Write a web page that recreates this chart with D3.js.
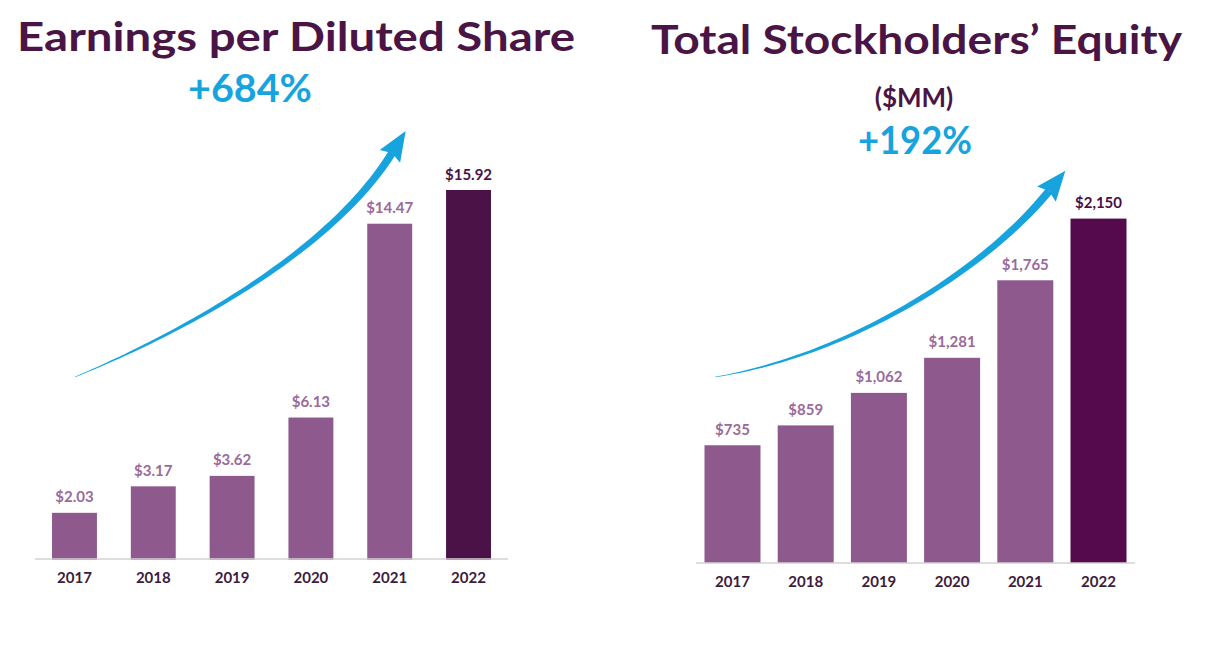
<!doctype html>
<html lang="en">
<head>
	<meta charset="UTF-8">
	<title>EPS and Stockholders' Equity</title>
	<script src="https://d3js.org/d3.v7.min.js"></script>
	<style>
		body { margin: 0; background: #fff; }
		svg { display: block; }
		text { font-family: Lato, 'Open Sans', sans-serif; }
	</style>
</head>
<body>
	<div id="chart"></div>
	<script>
		// ---- data ----
		var years = ['2017', '2018', '2019', '2020', '2021', '2022']
		var eps_values = [2.03, 3.17, 3.62, 6.13, 14.47, 15.92]
		var equity_values = [735, 859, 1062, 1281, 1765, 2150]

		var W = 1221, H = 647

		// colours
		var title_color = '#4a1545'
		var blue = '#17a3dd'
		var bar_light = '#8e5a8e'
		var label_light = '#9a6a9a'
		var year_color = '#3d1c3d'
		var axis_color = '#d2d2d2'

		var svg = d3.select('#chart')
			.append('svg')
			.attr('width', W)
			.attr('height', H)

		/**
		 * tapered arrow along a cubic bezier, thin at the tail, fat at the head
		 */
		function tapered_arrow(g, p0, c1, c2, p3, w0, w1, head_len, head_w) {
			var n = 60
			var left = [], right = []
			function pt(t) {
				var a = (1 - t) * (1 - t) * (1 - t), b = 3 * (1 - t) * (1 - t) * t,
					c = 3 * (1 - t) * t * t, d = t * t * t
				return [a * p0[0] + b * c1[0] + c * c2[0] + d * p3[0],
					a * p0[1] + b * c1[1] + c * c2[1] + d * p3[1]]
			}
			function tan(t) {
				var a = 3 * (1 - t) * (1 - t), b = 6 * (1 - t) * t, c = 3 * t * t
				var dx = a * (c1[0] - p0[0]) + b * (c2[0] - c1[0]) + c * (p3[0] - c2[0])
				var dy = a * (c1[1] - p0[1]) + b * (c2[1] - c1[1]) + c * (p3[1] - c2[1])
				var l = Math.sqrt(dx * dx + dy * dy)
				return [dx / l, dy / l]
			}
			for (var i = 0; i <= n; i++) {
				var t = i / n
				var p = pt(t), d = tan(t)
				var w = (w0 + (w1 - w0) * Math.pow(t, 0.8)) / 2
				left.push([p[0] - d[1] * w, p[1] + d[0] * w])
				right.push([p[0] + d[1] * w, p[1] - d[0] * w])
			}
			var pts = left.concat(right.reverse())
			g.append('path')
				.attr('d', d3.line()(pts) + 'Z')
				.attr('fill', blue)

			// head
			var d = tan(1)
			var tip = [p3[0] + d[0] * head_len, p3[1] + d[1] * head_len]
			var back = [p3[0] - d[0] * 4, p3[1] - d[1] * 4]
			var hl = [back[0] - d[1] * head_w / 2, back[1] + d[0] * head_w / 2]
			var hr = [back[0] + d[1] * head_w / 2, back[1] - d[0] * head_w / 2]
			g.append('path')
				.attr('d', d3.line()([tip, hl, p3, hr]) + 'Z')
				.attr('fill', blue)
		}

		function draw_panel(cfg) {
			var g = svg.append('g')

			var x = d3.scaleBand()
				.domain(years)
				.range([cfg.x0, cfg.x1])
				.paddingInner(cfg.pad_in)
				.paddingOuter(cfg.pad_out)

			var y = d3.scaleLinear()
				.domain([0, d3.max(cfg.values)])
				.range([cfg.base, cfg.top])

			var data = years.map(function (yr, i) { return { year: yr, value: cfg.values[i], last: i == years.length - 1 } })

			// bars
			g.selectAll('rect.bar')
				.data(data)
				.enter()
				.append('rect')
				.attr('class', 'bar')
				.attr('x', function (d) { return x(d.year) })
				.attr('y', function (d) { return y(d.value) })
				.attr('width', x.bandwidth())
				.attr('height', function (d) { return cfg.base - y(d.value) })
				.attr('fill', function (d) { return d.last ? cfg.dark : bar_light })

			// baseline
			g.append('line')
				.attr('x1', cfg.x0)
				.attr('x2', cfg.x1)
				.attr('y1', cfg.axis_y)
				.attr('y2', cfg.axis_y)
				.attr('stroke', axis_color)
				.attr('stroke-width', 1.5)

			// value labels
			g.selectAll('text.val')
				.data(data)
				.enter()
				.append('text')
				.attr('class', 'val')
				.attr('x', function (d) { return x(d.year) + x.bandwidth() / 2 })
				.attr('y', function (d) { return y(d.value) - 10.5 })
				.attr('text-anchor', 'middle')
				.attr('font-size', 15)
				.attr('font-weight', 700)
				.attr('fill', function (d) { return d.last ? cfg.dark_label : label_light })
				.text(function (d) { return cfg.fmt(d.value) })

			// year labels (axis)
			var axis = g.append('g')
				.attr('transform', 'translate(0,' + cfg.axis_y + ')')
				.call(d3.axisBottom(x).tickSize(0).tickPadding(cfg.year_pad))
			axis.select('.domain').remove()
			axis.selectAll('text')
				.attr('font-size', 15)
				.attr('font-weight', 700)
				.attr('fill', year_color)
				.style('font-family', 'Lato, sans-serif')

			// titles
			g.append('text')
				.attr('x', cfg.title_x)
				.attr('y', cfg.title_y)
				.attr('font-size', 41)
				.attr('font-weight', 700)
				.attr('fill', title_color)
				.attr('textLength', cfg.title_len)
				.attr('lengthAdjust', 'spacingAndGlyphs')
				.text(cfg.title)

			if (cfg.sub) {
				g.append('text')
					.attr('x', cfg.sub_x)
					.attr('y', cfg.sub_y)
					.attr('text-anchor', 'middle')
					.attr('font-size', 26)
					.attr('font-weight', 700)
					.attr('fill', title_color)
					.text(cfg.sub)
			}

			g.append('text')
				.attr('x', cfg.pct_x)
				.attr('y', cfg.pct_y)
				.attr('text-anchor', 'middle')
				.attr('font-size', 38)
				.attr('font-weight', 700)
				.attr('fill', blue)
				.attr('textLength', cfg.pct_len)
				.attr('lengthAdjust', 'spacingAndGlyphs')
				.text(cfg.pct)

			// growth arrow
			var a = cfg.arrow
			tapered_arrow(g, a[0], a[1], a[2], a[3], 0.4, 8, 26, 24)
		}

		/* ------------------------------ Left panel ------------------------------ */
		draw_panel({
			values: eps_values,
			x0: 35, x1: 508, pad_in: 0.43, pad_out: 0.216,
			base: 560, top: 190, axis_y: 559,
			dark: '#4a1246', dark_label: '#4a1246',
			fmt: function (v) { return '$' + d3.format('.2f')(v) },
			year_pad: 13,
			title: 'Earnings per Diluted Share', title_x: 17, title_y: 51, title_len: 558,
			pct: '+684%', pct_x: 250, pct_y: 102, pct_len: 124,
			arrow: [[75, 377], [200, 325], [335, 245], [392, 153]]
		})

		/* ------------------------------ Right panel ----------------------------- */
		draw_panel({
			values: equity_values,
			x0: 696, x1: 1135, pad_in: 0.235, pad_out: 0.116,
			base: 563, top: 218.6, axis_y: 563,
			dark: '#540a4d', dark_label: '#4a0e45',
			fmt: function (v) { return '$' + d3.format(',')(v) },
			year_pad: 13,
			title: 'Total Stockholders\u2019 Equity', title_x: 651, title_y: 53.5, title_len: 531,
			sub: '($MM)', sub_x: 914, sub_y: 106.5,
			pct: '+192%', pct_x: 915, pct_y: 153.5, pct_len: 114,
			arrow: [[715, 377], [850, 355], [985, 270], [1049, 191]]
		})
	</script>
</body>
</html>
